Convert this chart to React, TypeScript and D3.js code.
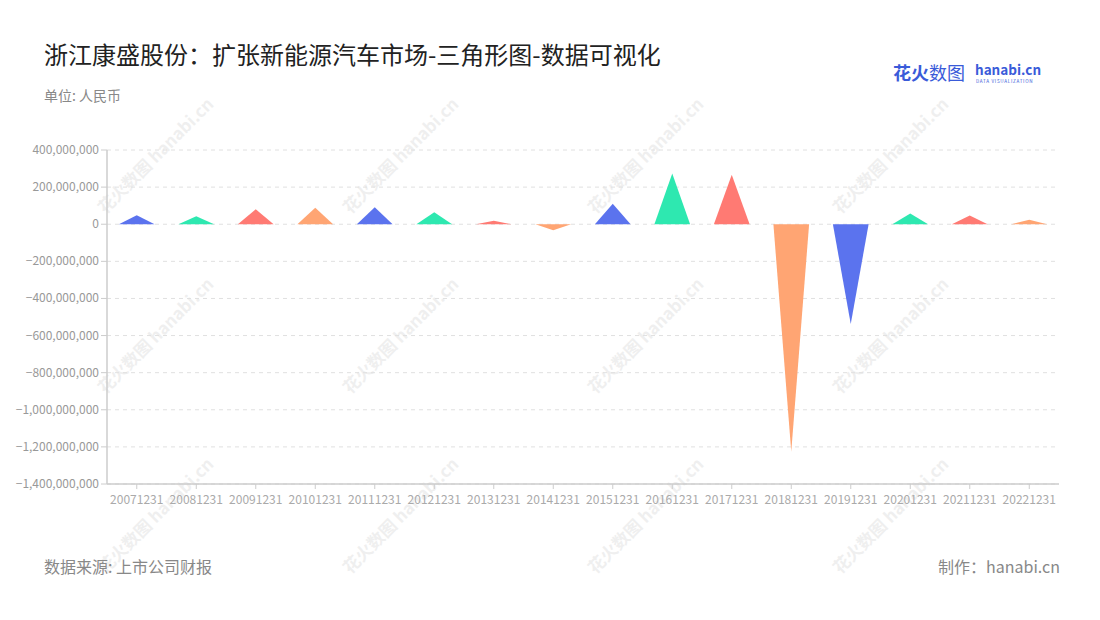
import React from "react";
import * as d3 from "d3";

const categories = ["20071231","20081231","20091231","20101231","20111231","20121231","20131231","20141231","20151231","20161231","20171231","20181231","20191231","20201231","20211231","20221231"];
const values = [48e6, 43e6, 81e6, 89e6, 91e6, 65e6, 19e6, -32e6, 110e6, 274e6, 266e6, -1226e6, -538e6, 58e6, 47e6, 24e6];
const palette = ["#5b73ee", "#2ee8b0", "#ff7a73", "#ffa573"];
const yTicks = [400e6, 200e6, 0, -200e6, -400e6, -600e6, -800e6, -1000e6, -1200e6, -1400e6];

const W = 1100, H = 620;
const left = 107, right = 1059, top = 150, bottom = 484;

export default function App() {
  const x = d3.scaleBand<string>().domain(categories).range([left, right]).paddingInner(0).paddingOuter(0);
  const y = d3.scaleLinear().domain([-1400e6, 400e6]).range([bottom, top]);
  const fmt = d3.format(",");
  const bw = x.bandwidth() * 0.6;
  const wmPos: [number, number][] = [];
  for (const wx of [160, 405, 650, 895]) for (const wy of [160, 340, 520]) wmPos.push([wx, wy]);
  const font = "'Noto Sans CJK SC', 'Noto Sans', sans-serif";
  return (
    <svg width={W} height={H} style={{ position: "absolute", left: 0, top: 0, fontFamily: font }}>
      <rect width={W} height={H} fill="#fff" />
      {wmPos.map(([wx, wy], i) => (
        <g key={i} transform={`translate(${wx},${wy}) rotate(-45)`} opacity={0.09}>
          <text x={0} y={0} fontSize={17} fontWeight={700} fill="#555" textAnchor="middle">花火数图 hanabi.cn</text>
        </g>
      ))}
      <text x={44} y={64} fontSize={24} fill="#222">浙江康盛股份：扩张新能源汽车市场-三角形图-数据可视化</text>
      <text x={44} y={101} fontSize={14} fill="#888">单位: 人民币</text>
      <g>
        <text x={893} y={80} fontSize={18} fontWeight={700} fill="#3a5bd9">花火</text>
        <text x={929} y={80} fontSize={18} fill="#3a5bd9">数图</text>
        <text x={975} y={75} fontSize={13.5} fontWeight={700} fill="#3a5bd9">hanabi.cn</text>
        <text x={976} y={82.5} fontSize={4.6} fill="#3a5bd9" letterSpacing={0.7}>DATA VISUALIZATION</text>
      </g>
      {yTicks.map((t) => (
        <g key={t}>
          <line x1={left} x2={right} y1={y(t)} y2={y(t)} stroke="#e0e0e0" strokeDasharray="4,4" />
          <line x1={left - 6} x2={left} y1={y(t)} y2={y(t)} stroke="#ccc" />
          <text x={left - 8} y={y(t) + 4} fontSize={12} fill="#999" textAnchor="end">{fmt(t)}</text>
        </g>
      ))}
      <line x1={left} x2={left} y1={top} y2={bottom} stroke="#ccc" strokeWidth={1.5} />
      <line x1={left} x2={right} y1={bottom} y2={bottom} stroke="#ccc" strokeWidth={1.5} />
      {categories.map((c) => {
        const cx = (x(c) as number) + x.bandwidth() / 2;
        return (
          <g key={c}>
            <line x1={cx} x2={cx} y1={bottom} y2={bottom + 5} stroke="#ccc" />
            <text x={cx} y={bottom + 20} fontSize={12} fill="#aaa" textAnchor="middle">{c}</text>
          </g>
        );
      })}
      {values.map((v, i) => {
        const cx = (x(categories[i]) as number) + x.bandwidth() / 2;
        const y0 = y(0), y1 = y(v);
        const path = d3.path();
        path.moveTo(cx - bw / 2, y0);
        path.lineTo(cx, y1);
        path.lineTo(cx + bw / 2, y0);
        path.closePath();
        return <path key={i} d={path.toString()} fill={palette[i % 4]} />;
      })}
      <text x={44} y={573} fontSize={16} fill="#888">数据来源: 上市公司财报</text>
      <text x={1060} y={573} fontSize={16} fill="#888" textAnchor="end">制作：hanabi.cn</text>
    </svg>
  );
}
